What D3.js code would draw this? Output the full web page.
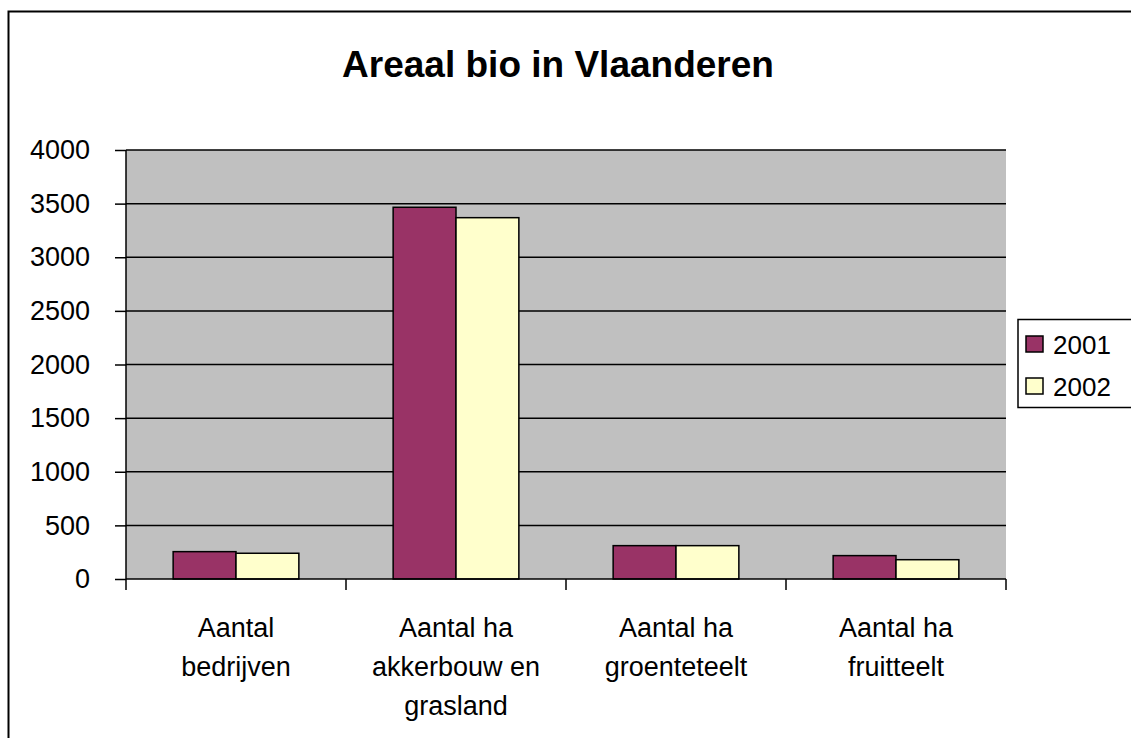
<!DOCTYPE html>
<html>
<head>
<meta charset="utf-8">
<script src="https://cdn.jsdelivr.net/npm/d3@7"></script>
<style>
  html, body { margin: 0; padding: 0; background: #fff; overflow: hidden; }
  svg { display: block; font-family: "Liberation Sans", Arial, sans-serif; }
</style>
</head>
<body>
<div id="chart"></div>
<script>
// chart data
const title = "Areaal bio in Vlaanderen";
const categories = [
  "Aantal\nbedrijven",
  "Aantal ha\nakkerbouw en\ngrasland",
  "Aantal ha\ngroenteteelt",
  "Aantal ha\nfruitteelt"
];
const seriesNames = ["2001", "2002"];
const values2001 = [255, 3466, 311, 218];
const values2002 = [240, 3369, 311, 180];
const yTicks = [0, 500, 1000, 1500, 2000, 2500, 3000, 3500, 4000];

const W = 1131, H = 738;
const plot = { left: 126, right: 1006, top: 150, bottom: 579 };
const colors = { "2001": "#993366", "2002": "#FFFFCC" };

const svg = d3.select("#chart").append("svg")
  .attr("width", W)
  .attr("height", H);

// chart frame (runs off the right and bottom edges)
svg.append("rect")
  .attr("x", 8.5).attr("y", 11.5)
  .attr("width", W + 20).attr("height", H + 20)
  .attr("fill", "#fff")
  .attr("stroke", "#000")
  .attr("stroke-width", 2);

svg.append("text")
  .attr("x", 558).attr("y", 77)
  .attr("text-anchor", "middle")
  .style("font-size", "37px")
  .style("font-weight", "bold")
  .text(title);

const x = d3.scaleBand()
  .domain(d3.range(categories.length))
  .range([plot.left, plot.right]);

const xSub = d3.scaleBand()
  .domain(seriesNames)
  .range([0, x.bandwidth()])
  .paddingOuter(0.75);

const y = d3.scaleLinear()
  .domain([0, 4000])
  .range([plot.bottom, plot.top]);

// plot area
svg.append("rect")
  .attr("x", plot.left).attr("y", plot.top)
  .attr("width", plot.right - plot.left)
  .attr("height", plot.bottom - plot.top)
  .attr("fill", "#C0C0C0");

// gridlines
svg.append("g").selectAll("line")
  .data(yTicks.filter(d => d > 0))
  .join("line")
  .attr("x1", plot.left).attr("x2", plot.right)
  .attr("y1", d => y(d)).attr("y2", d => y(d))
  .attr("stroke", "#000")
  .attr("stroke-width", 1.5);

// bars
const rows = categories.map((c, i) => ({
  i: i,
  vals: [
    { key: "2001", v: values2001[i] },
    { key: "2002", v: values2002[i] }
  ]
}));

svg.append("g").selectAll("g")
  .data(rows)
  .join("g")
  .attr("transform", d => `translate(${x(d.i)},0)`)
  .selectAll("rect")
  .data(d => d.vals)
  .join("rect")
  .attr("x", d => xSub(d.key))
  .attr("y", d => y(d.v))
  .attr("width", xSub.bandwidth())
  .attr("height", d => y(0) - y(d.v))
  .attr("fill", d => colors[d.key])
  .attr("stroke", "#000")
  .attr("stroke-width", 1.5);

// y axis
const yAxis = svg.append("g")
  .attr("transform", `translate(${plot.left},0)`)
  .call(d3.axisLeft(y).tickValues(yTicks).tickFormat(d3.format("d"))
    .tickSize(11).tickPadding(25));
yAxis.select(".domain").attr("stroke", "#000").attr("stroke-width", 1.5)
  .attr("d", `M0,${plot.top}V${plot.bottom}`);
yAxis.selectAll(".tick line").attr("stroke", "#000").attr("stroke-width", 1.5);
yAxis.selectAll(".tick text")
  .style("font-size", "27px")
  .style("font-family", "'Liberation Sans', Arial, sans-serif")
  .attr("fill", "#000");

// x axis
const xAxis = svg.append("g")
  .attr("transform", `translate(0,${plot.bottom})`);
xAxis.append("line")
  .attr("x1", plot.left).attr("x2", plot.right)
  .attr("stroke", "#000").attr("stroke-width", 1.5);
xAxis.selectAll(".xtick")
  .data(d3.range(categories.length + 1))
  .join("line")
  .attr("class", "xtick")
  .attr("x1", d => plot.left + d * x.step())
  .attr("x2", d => plot.left + d * x.step())
  .attr("y1", 0).attr("y2", 11)
  .attr("stroke", "#000").attr("stroke-width", 1.5);

// category labels
xAxis.selectAll(".xlabel")
  .data(categories)
  .join("text")
  .attr("class", "xlabel")
  .attr("text-anchor", "middle")
  .style("font-size", "27px")
  .each(function(d, i) {
    d3.select(this).selectAll("tspan")
      .data(d.split("\n"))
      .join("tspan")
      .attr("x", x(i) + x.bandwidth() / 2)
      .attr("y", (t, j) => 58 + j * 39)
      .text(t => t);
  });

// legend
const legend = svg.append("g");
legend.append("rect")
  .attr("x", 1018).attr("y", 319.5)
  .attr("width", 130).attr("height", 88)
  .attr("fill", "#fff")
  .attr("stroke", "#000")
  .attr("stroke-width", 1.5);
const items = legend.selectAll("g.item")
  .data(seriesNames)
  .join("g")
  .attr("class", "item")
  .attr("transform", (d, i) => `translate(1026,${336 + i * 42})`);
items.append("rect")
  .attr("width", 17).attr("height", 16)
  .attr("fill", d => colors[d])
  .attr("stroke", "#000")
  .attr("stroke-width", 1.5);
items.append("text")
  .attr("x", 27).attr("y", 18)
  .style("font-size", "26px")
  .text(d => d);
</script>
</body>
</html>
